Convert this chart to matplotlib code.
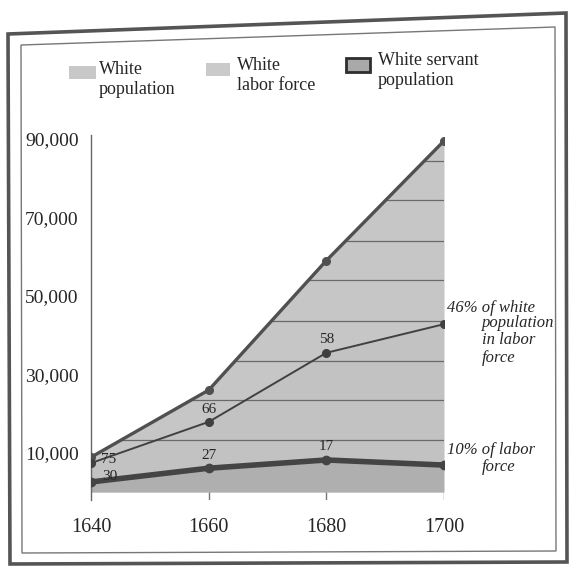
import matplotlib
matplotlib.use('Agg')
import matplotlib.pyplot as plt
from matplotlib.patches import Polygon, Rectangle
from matplotlib.ticker import FuncFormatter

years = [1640, 1660, 1680, 1700]
white_pop = [8900, 26000, 59000, 89500]
labor_force = [7400, 17900, 35500, 42800]
servants = [2600, 6100, 8200, 6900]
labor_pct = ['75', '66', '58', '46']
servant_pct = ['30', '27', '17', '10']
y_ticks = [10000, 30000, 50000, 70000, 90000]
grid_levels = [13300, 23500, 33500, 43500, 54000, 64000, 74500, 84500]

W, H = 571, 567
plt.rcParams['font.family'] = ['Liberation Serif', 'DejaVu Serif']

fig = plt.figure(figsize=(W / 100, H / 100), dpi=100)


def fx(x):
    return x / W


def fy(y):
    return 1 - y / H


# double frame round the picture (scan is slightly tilted)
outer = [(8, 34), (566, 13), (567, 562), (10, 564)]
inner = [(21, 45), (555, 27), (556, 551), (22, 553)]
fig.add_artist(Polygon([(fx(a), fy(b)) for a, b in outer], closed=True, fill=False,
                       ec='#555555', lw=2.6, transform=fig.transFigure))
fig.add_artist(Polygon([(fx(a), fy(b)) for a, b in inner], closed=True, fill=False,
                       ec='#777777', lw=1.0, transform=fig.transFigure))

ax = fig.add_axes([fx(91), fy(500), fx(444) - fx(91), fy(135) - fy(500)])
ax.set_xlim(1640, 1700)
ax.set_ylim(-2000, 91000)

pop_col = '#c6c6c6'
lab_col = '#c2c2c2'
srv_col = '#afafaf'

ax.fill_between(years, labor_force, white_pop, color=pop_col, lw=0, zorder=1)
ax.fill_between(years, servants, labor_force, color=lab_col, lw=0, zorder=1)
ax.fill_between(years, 0, servants, color=srv_col, lw=0, zorder=1)
clip = ax.fill_between(years, 0, white_pop, color='none', lw=0)

grid = ax.hlines(grid_levels, 1640, 1700, color='#6a6a6a', lw=0.9, zorder=2)
grid.set_clip_path(clip.get_paths()[0], transform=ax.transData)

# short tick marks below the area
ax.vlines(years[1:], -2000, 0, color='#777777', lw=1.0, zorder=2)

ax.plot(years, white_pop, color='#505050', lw=2.4, marker='o', ms=5.5, zorder=4)
ax.plot(years, labor_force, color='#404040', lw=1.4, marker='o', ms=5.5, zorder=4)
ax.plot(years, servants, color='#444444', lw=4.0, marker='o', ms=6, zorder=5)

txt = '#262626'

# percentages next to points
lab_offsets = [(18, 4), (0, 12), (0, 13)]
srv_offsets = [(19, 5), (0, 13), (0, 13)]
for i in range(3):
    ax.annotate(labor_pct[i], (years[i], labor_force[i]), xytext=lab_offsets[i],
                textcoords='offset pixels', ha='center', va='center',
                fontsize=11, color=txt, zorder=6)
    ax.annotate(servant_pct[i], (years[i], servants[i]), xytext=srv_offsets[i],
                textcoords='offset pixels', ha='center', va='center',
                fontsize=11, color=txt, zorder=6)

it_kw = dict(textcoords='offset pixels', ha='left', fontsize=12, style='italic',
             color=txt, annotation_clip=False)
ax.annotate(labor_pct[3] + '% of white', (years[3], labor_force[3]), xytext=(3, 16),
            va='center', **it_kw)
ax.annotate('population\nin labor\nforce', (years[3], labor_force[3]), xytext=(38, 9),
            va='top', linespacing=1.1, **it_kw)
ax.annotate(servant_pct[3] + '% of labor', (years[3], servants[3]), xytext=(3, 15),
            va='center', **it_kw)
ax.annotate('force', (years[3], servants[3]), xytext=(38, -2),
            va='center', **it_kw)

for s in ['top', 'right', 'bottom']:
    ax.spines[s].set_visible(False)
ax.spines['left'].set_color('#666666')
ax.spines['left'].set_linewidth(1.0)

ax.set_xticks(years)
ax.set_yticks(y_ticks)
ax.yaxis.set_major_formatter(FuncFormatter(lambda v, p: f'{int(v):,}'))
ax.tick_params(axis='x', length=0, pad=13, labelsize=14.5, labelcolor=txt)
ax.tick_params(axis='y', length=0, pad=9, labelsize=14, labelcolor=txt)
ax.patch.set_alpha(0)

# legend drawn by hand
fig.add_artist(Rectangle((fx(69), fy(79)), fx(27), fy(66) - fy(79), fc='#c8c8c8',
                         ec='none', transform=fig.transFigure))
fig.add_artist(Rectangle((fx(206), fy(76)), fx(24), fy(63) - fy(76), fc='#cacaca',
                         ec='none', transform=fig.transFigure))
fig.add_artist(Rectangle((fx(346), fy(72)), fx(24), fy(58) - fy(72), fc='#a9a9a9',
                         ec='#2e2e2e', lw=2.0, transform=fig.transFigure))
leg_kw = dict(fontsize=13, color=txt, va='top', ha='left', linespacing=1.2)
fig.text(fx(99), fy(61), 'White\npopulation', **leg_kw)
fig.text(fx(237), fy(57), 'White\nlabor force', **leg_kw)
fig.text(fx(378), fy(52), 'White servant\npopulation', **leg_kw)

fig.savefig('out.png', dpi=100)
